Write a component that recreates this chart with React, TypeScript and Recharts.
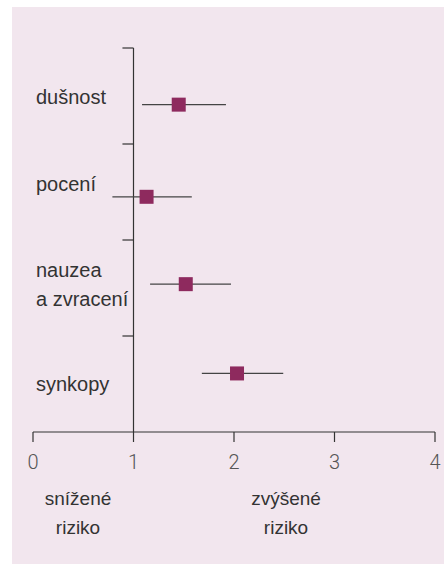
import { ScatterChart, Scatter, XAxis, YAxis, ErrorBar, ReferenceLine } from 'recharts';

// symptoms (rows), top to bottom
const symptoms = ['dušnost', 'pocení', 'nauzea\na zvracení', 'synkopy'];
const riskRatio = [1.45, 1.13, 1.52, 2.03];
const ciLow = [1.085, 0.79, 1.165, 1.68];
const ciHigh = [1.92, 1.58, 1.97, 2.49];
// vertical position of each marker / label inside its row band
const rowPos = [0.59, 1.55, 2.46, 3.39];
const labelPos = [0.51, 1.42, 2.46, 3.5];
const labelX = 0.03;
const rowBounds = [0, 1, 2, 3];
const xTicks = [0, 1, 2, 3, 4];

const rows = symptoms.map((name, i) => ({
    name,
    x: riskRatio[i],
    y: rowPos[i],
    err: [riskRatio[i] - ciLow[i], ciHigh[i] - riskRatio[i]],
}));

const labels = symptoms.map((name, i) => ({ name, x: labelX, y: labelPos[i] }));

const FONT = '"Liberation Sans", Arial, sans-serif';
const TICK_LEN = 0.11; // left row ticks, in x units

function SymptomLabel(props: any) {
    const { cx, cy, payload } = props;
    const lines = String(payload.name).split('\n');
    const lh = 29;
    const y0 = cy - ((lines.length - 1) * lh) / 2 + 7;
    return (
        <text textAnchor="start" fill="#333" fontSize={20} fontFamily={FONT}>
            {lines.map((l, i) => (
                <tspan key={i} x={cx} y={y0 + i * lh}>
                    {l}
                </tspan>
            ))}
        </text>
    );
}

function Square(props: any) {
    const { cx, cy } = props;
    return <rect x={cx - 7} y={cy - 7} width={14} height={14} fill="#8e2a5e" />;
}

export default function App() {
    return (
        <div style={{ position: 'relative', width: 444, height: 565, fontFamily: FONT }}>
            <style>{'body{margin:0}'}</style>
            <div style={{ position: 'absolute', left: 12, top: 7, width: 432, height: 557, background: '#f2e6ee' }} />
            <div style={{ position: 'absolute', left: 0, top: 0 }}>
                <ScatterChart width={444} height={565} margin={{ top: 48, right: 9, left: 33, bottom: 0 }}>
                    <XAxis
                        type="number"
                        dataKey="x"
                        domain={[0, 4]}
                        ticks={xTicks}
                        interval={0}
                        height={133}
                        tickSize={10}
                        tickMargin={13}
                        axisLine={{ stroke: '#333', strokeWidth: 1.2 }}
                        tickLine={{ stroke: '#333', strokeWidth: 1.2 }}
                        tick={{ fill: '#555', fontSize: 20, fontFamily: 'Roboto', fontWeight: 300 }}
                    />
                    <YAxis type="number" dataKey="y" domain={[0, 4]} reversed hide />
                    <ReferenceLine x={1} stroke="#333" strokeWidth={1.2} />
                    {rowBounds.map((b) => (
                        <ReferenceLine
                            key={b}
                            segment={[{ x: 1 - TICK_LEN, y: b }, { x: 1, y: b }]}
                            stroke="#333"
                            strokeWidth={1.2}
                        />
                    ))}
                    <Scatter data={labels} shape={<SymptomLabel />} isAnimationActive={false} />
                    <Scatter data={rows} shape={<Square />} isAnimationActive={false}>
                        <ErrorBar dataKey="err" direction="x" width={0} stroke="#444" strokeWidth={1.2} />
                    </Scatter>
                </ScatterChart>
            </div>
            <div style={{ position: 'absolute', left: 18, top: 484, width: 120, textAlign: 'center', fontSize: 19, lineHeight: '29px', color: '#333' }}>
                snížené
                <br />
                riziko
            </div>
            <div style={{ position: 'absolute', left: 226, top: 484, width: 120, textAlign: 'center', fontSize: 19, lineHeight: '29px', color: '#333' }}>
                zvýšené
                <br />
                riziko
            </div>
        </div>
    );
}
